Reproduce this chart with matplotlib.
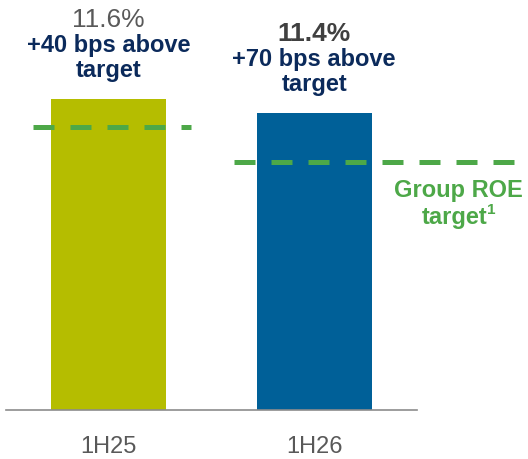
import matplotlib
matplotlib.use("Agg")
import matplotlib.pyplot as plt

# data
periods = ["1H25", "1H26"]
roe = [11.6, 11.4]
targets = [11.2, 10.7]
roe_labels = ["11.6%", "11.4%"]
above_labels = ["+40 bps above", "+70 bps above"]
bar_colors = ["#B5BD00", "#006098"]

plt.rcParams['font.family'] = ['Liberation Sans', 'DejaVu Sans']

fig = plt.figure(figsize=(5.28, 4.59), dpi=100)
# axes: x pixels 6..417, y pixels 0..410 (from top)
ax = fig.add_axes([6 / 528, (459 - 410) / 459, 411 / 528, 410 / 459])

x = list(range(len(periods)))
ax.bar(x, roe, width=0.558, color=bar_colors, zorder=2)

ymin = 11.6 - 311 / 70
ax.set_ylim(ymin, ymin + 410 / 70)
ax.set_xlim(-0.5, 1.5)

green = "#4DA848"
# target dashed lines (extend past the axes)
spans = [(-0.371, 0.40), (0.609, 2.0)]
for (x0, x1), t in zip(spans, targets):
    ax.plot([x0, x1], [t, t], color=green, lw=3.6, dashes=(4.2, 3.2),
            solid_capstyle='butt', dash_capstyle='butt', clip_on=False, zorder=3)

ax.text(1.70, 10.20, "Group ROE", ha='center', va='baseline',
        fontsize=17, fontweight='bold', color=green)
ax.text(1.685, 9.82, "target", ha='center', va='baseline',
        fontsize=17, fontweight='bold', color=green)
ax.annotate("1", (1.685, 9.82), xytext=(23, 7), textcoords='offset points',
            ha='left', va='baseline', fontsize=11, fontweight='bold',
            color=green, annotation_clip=False)

navy = "#0B2A5B"
pct_style = [dict(color="#595959", fontweight='normal'),
             dict(color="#404040", fontweight='bold')]
for i, v in enumerate(roe):
    ax.annotate("target", (i, v), xytext=(0, 16), textcoords='offset points',
                ha='center', va='baseline', fontsize=17, fontweight='bold',
                color=navy, annotation_clip=False)
    ax.annotate(above_labels[i], (i, v), xytext=(0, 34), textcoords='offset points',
                ha='center', va='baseline', fontsize=17, fontweight='bold',
                color=navy, annotation_clip=False)
    ax.annotate(roe_labels[i], (i, v), xytext=(0, 52), textcoords='offset points',
                ha='center', va='baseline', fontsize=19, annotation_clip=False,
                **pct_style[i])

for s in ['top', 'right', 'left']:
    ax.spines[s].set_visible(False)
ax.spines['bottom'].set_color('#8C8C8C')
ax.spines['bottom'].set_linewidth(1.2)
ax.set_yticks([])
ax.set_xticks(x)
ax.set_xticklabels(periods, fontsize=17, color='#595959')
ax.tick_params(axis='x', length=0, pad=19)

fig.savefig("out.png", dpi=100)
